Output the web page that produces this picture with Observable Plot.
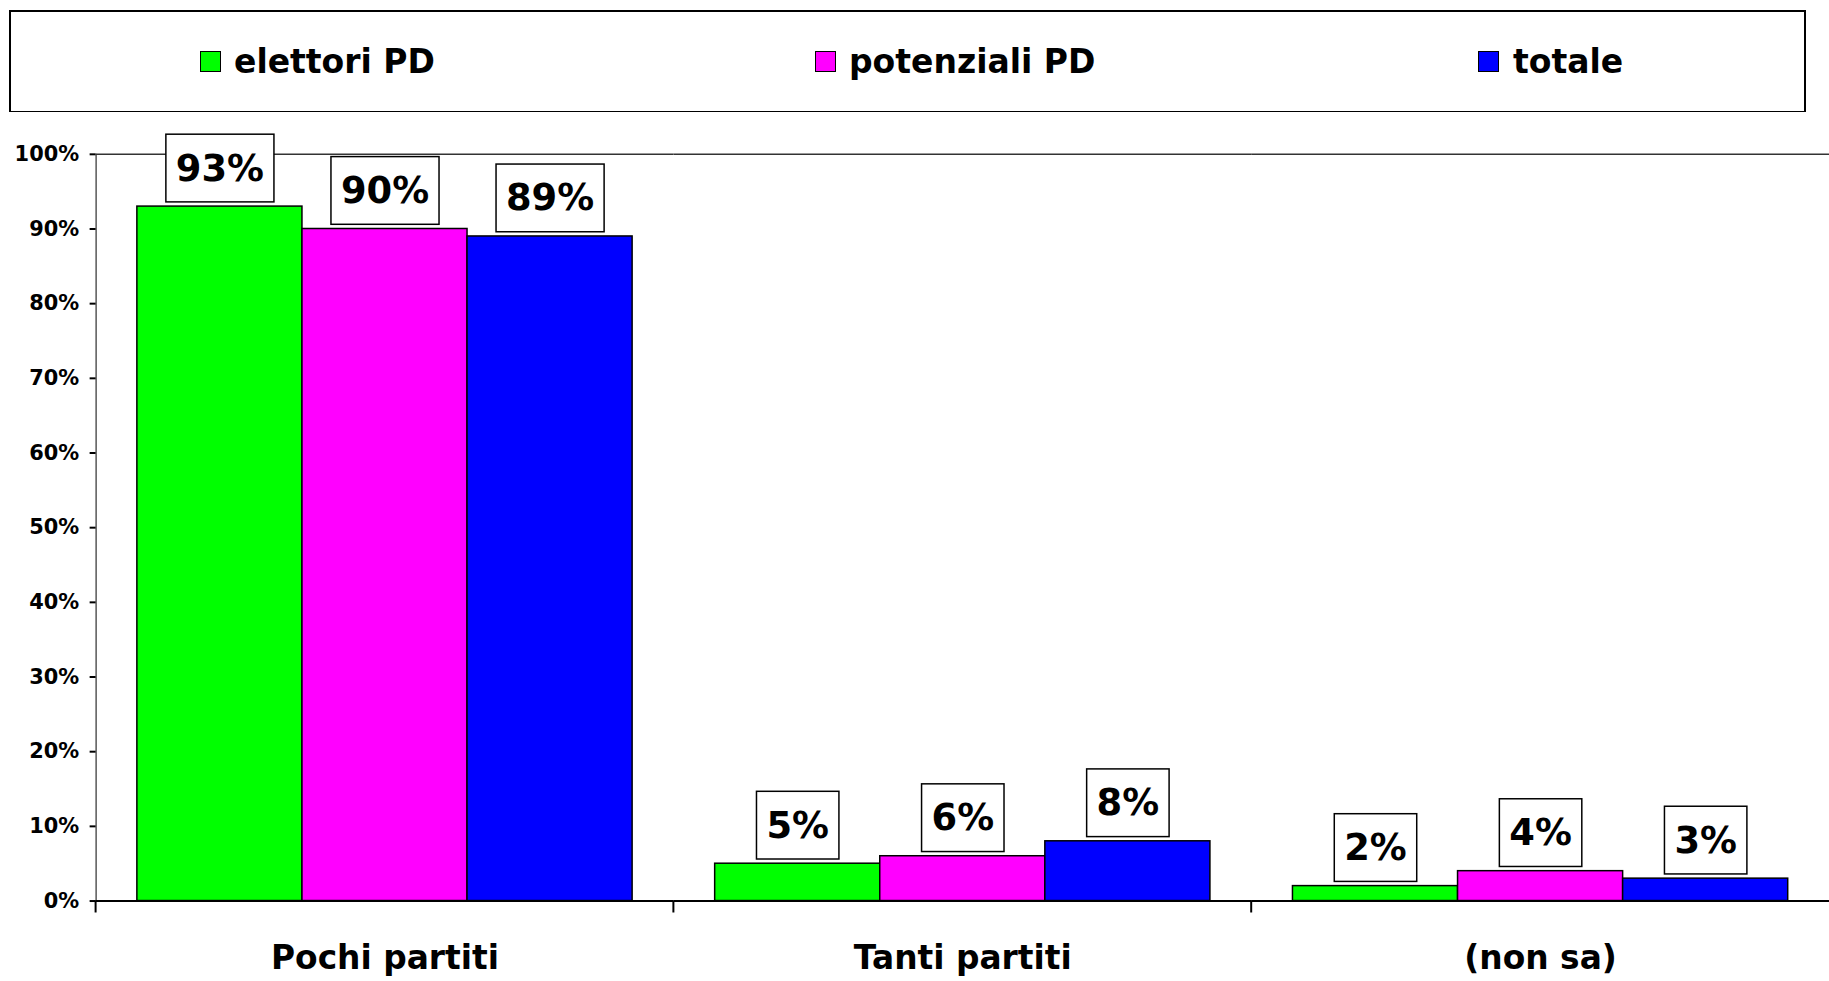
<!DOCTYPE html>
<html><head><meta charset="utf-8">
<script src="https://cdn.jsdelivr.net/npm/d3@7"></script>
<script src="https://cdn.jsdelivr.net/npm/@observablehq/plot@0.6"></script>
<style>
html,body{margin:0;padding:0;background:#fff;overflow:hidden;width:1829px;height:981px;}
#legend{position:absolute;left:9px;top:10px;width:1797px;height:103px;box-sizing:border-box;border:2px solid #000;font-family:"DejaVu Sans";font-weight:bold;font-size:33px;color:#000;}
.sw{position:absolute;width:19px;height:19px;border:1.5px solid #000;}
.lt{position:absolute;line-height:33px;white-space:nowrap;}
#chart{position:absolute;left:0;top:112px;width:1829px;height:869px;overflow:hidden;}
#chart svg g[aria-label^="y-axis"]{stroke-width:2px;}
</style></head><body>
<div id="legend"></div><div id="chart"></div>
<script>
const categories = ["Pochi partiti", "Tanti partiti", "(non sa)"];
const series = ["elettori PD", "potenziali PD", "totale"];
const colors = ["#00ff00", "#ff00ff", "#0000ff"];
const elettoriPD = [93, 5, 2];
const potenzialiPD = [90, 6, 4];
const totale = [89, 8, 3];
const yTicks = [0, 10, 20, 30, 40, 50, 60, 70, 80, 90, 100];

const seriesValues = [elettoriPD, potenzialiPD, totale];
const data = categories.flatMap((c, i) => series.map((s, j) => ({category: c, series: s, value: seriesValues[j][i]})));

// legend (HTML, above the SVG)
const legend = document.getElementById("legend");
const legendPos = [[189, 223], [804, 838], [1467, 1502]];
series.forEach((s, j) => {
  const sw = document.createElement("div");
  sw.className = "sw";
  sw.style.left = legendPos[j][0] + "px";
  sw.style.top = "39px";
  sw.style.background = colors[j];
  legend.appendChild(sw);
  const t = document.createElement("div");
  t.className = "lt";
  t.style.left = legendPos[j][1] + "px";
  t.style.top = "33px";
  t.textContent = s;
  legend.appendChild(t);
});

const chart = Plot.plot({
  width: 1837, height: 869,
  marginLeft: 96, marginRight: 0, marginTop: 42, marginBottom: 77,
  style: {fontFamily: "DejaVu Sans", fontWeight: "bold", fontSize: "21px", color: "#000", background: "#fff", overflow: "visible"},
  fx: {domain: categories, padding: 0, round: false, axis: null},
  x: {domain: series, paddingInner: 0, paddingOuter: 0.25, round: false, axis: null},
  y: {domain: [0, 100], ticks: yTicks, tickFormat: d => d + "%", tickSize: 6, tickPadding: 11, label: null, line: true},
  color: {domain: series, range: colors},
  marks: [
    Plot.ruleY([100], {stroke: "#333", strokeWidth: 1.5}),
    Plot.barY(data, {fx: "category", x: "series", y: "value", fill: "series", stroke: "#000", strokeWidth: 1.5}),
    Plot.ruleY([0], {stroke: "#000", strokeWidth: 2}),
    Plot.text(data, {fx: "category", x: "series", y: "value", text: d => d.value + "%", dy: -38, lineAnchor: "middle", fontSize: 37, fontWeight: "bold", fill: "#000", ariaDescription: "value-label"}),
    Plot.text(categories, {fx: d => d, text: d => d, frameAnchor: "bottom", dy: 58, lineAnchor: "middle", fontSize: 33, fontWeight: "bold", fill: "#000", ariaDescription: "category-label"})
  ]
});
document.getElementById("chart").appendChild(chart);

// boxes behind the value labels, sized from the rendered text
chart.querySelectorAll('g[aria-description="value-label"] text').forEach(t => {
  const b = t.getBBox();
  const padX = 10, h = 68;
  const r = document.createElementNS("http://www.w3.org/2000/svg", "rect");
  r.setAttribute("x", b.x - padX);
  r.setAttribute("width", b.width + 2 * padX);
  r.setAttribute("y", b.y + b.height / 2 - h / 2);
  r.setAttribute("height", h);
  const tr = t.getAttribute("transform");
  if (tr) r.setAttribute("transform", tr);
  r.setAttribute("fill", "#fff");
  r.setAttribute("stroke", "#000");
  r.setAttribute("stroke-width", "1.5");
  t.parentNode.insertBefore(r, t);
});

// category boundary ticks below the x axis, from the library's scales
const fx = chart.scale("fx"), ys = chart.scale("y");
const y0 = ys.apply(0);
const svg = d3.select(chart);
categories.forEach(c => {
  const x0 = fx.apply(c);
  svg.append("line").attr("x1", x0).attr("x2", x0).attr("y1", y0).attr("y2", y0 + 12)
    .attr("stroke", "#000").attr("stroke-width", 2);
});
</script>
</body></html>
